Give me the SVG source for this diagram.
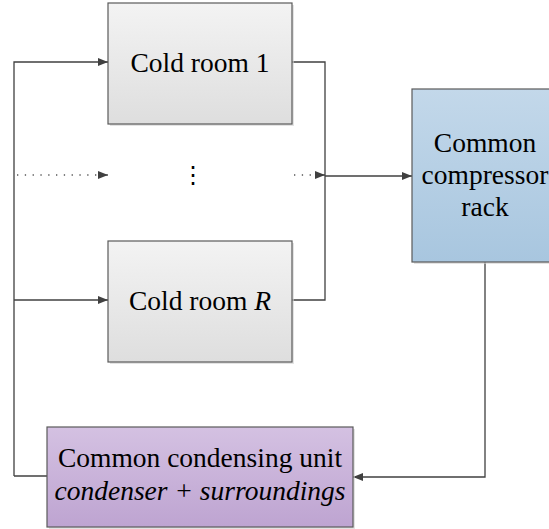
<svg xmlns="http://www.w3.org/2000/svg" width="549" height="529" viewBox="0 0 549 529">
<style>
.box{stroke:#5a5a5a;stroke-width:1.2}
.shadow{fill:#d0d0d0;opacity:0.6}
.t{font-family:'Liberation Serif','Times New Roman','DejaVu Serif',serif;font-size:27.5px;fill:#000;text-anchor:middle}
.c{fill:none;stroke:#404040;stroke-width:1.3}
.d{fill:none;stroke:#555;stroke-width:1.3;stroke-dasharray:1.3 6.5}
</style>
<defs>
<linearGradient id="gGray" x1="0" y1="0" x2="0" y2="1"><stop offset="0" stop-color="#f3f3f3"/><stop offset="1" stop-color="#dedede"/></linearGradient>
<linearGradient id="gBlue" x1="0" y1="0" x2="0" y2="1"><stop offset="0" stop-color="#c3d8ea"/><stop offset="1" stop-color="#a8c6df"/></linearGradient>
<linearGradient id="gPurple" x1="0" y1="0" x2="0" y2="1"><stop offset="0" stop-color="#d4c1e2"/><stop offset="1" stop-color="#bea4d1"/></linearGradient>
<marker id="arr" viewBox="0 0 10 8" refX="10" refY="4" markerWidth="10" markerHeight="8" markerUnits="userSpaceOnUse" orient="auto"><path d="M0,0 L10,4 L0,8 Z" fill="#404040"/></marker>
</defs>
<g id="connectors">
<path class="c" d="M292,62 H325 V300 H292"/>
<path class="c" d="M14,476 V62 H108" marker-end="url(#arr)"/>
<path class="c" d="M14,300 H108" marker-end="url(#arr)"/>
<path class="c" d="M14,476 H47"/>
<path class="d" d="M17,175 H98"/>
<path class="c" d="M98,175 H108" marker-end="url(#arr)"/>
<path class="d" d="M294,175 H315"/>
<path class="c" d="M315,175 H325" marker-end="url(#arr)"/>
<path class="c" d="M325,176 H412" marker-end="url(#arr)"/>
<path class="c" d="M485,262 V477 H353" marker-end="url(#arr)"/>
</g>
<g id="cold-room-1">
<rect class="shadow" x="110" y="5" width="184" height="121"/>
<rect class="box" x="108" y="3" width="184" height="121" fill="url(#gGray)"/>
<text class="t" font-family="Liberation Serif, serif" x="200" y="72">Cold room 1</text>
</g>
<g id="ellipsis">
<text x="193" y="183" font-family="DejaVu Sans, sans-serif" font-size="24" text-anchor="middle" fill="#000">⋮</text>
</g>
<g id="cold-room-R">
<rect class="shadow" x="110" y="243" width="184" height="121"/>
<rect class="box" x="108" y="241" width="184" height="121" fill="url(#gGray)"/>
<text class="t" font-family="Liberation Serif, serif" x="200" y="310">Cold room <tspan font-style="italic">R</tspan></text>
</g>
<g id="compressor">
<rect class="shadow" x="414" y="91" width="146" height="173"/>
<rect class="box" x="412" y="89" width="146" height="173" fill="url(#gBlue)"/>
<text class="t" font-family="Liberation Serif, serif" x="485" y="152">Common</text>
<text class="t" font-family="Liberation Serif, serif" x="485" y="184">compressor</text>
<text class="t" font-family="Liberation Serif, serif" x="485" y="216">rack</text>
</g>
<g id="condenser">
<rect class="shadow" x="49" y="429" width="306" height="100"/>
<rect class="box" x="47" y="427" width="306" height="100" fill="url(#gPurple)"/>
<text class="t" font-family="Liberation Serif, serif" x="200" y="467">Common condensing unit</text>
<text class="t" font-family="Liberation Serif, serif" x="200" y="500" font-style="italic">condenser + surroundings</text>
</g>
</svg>
